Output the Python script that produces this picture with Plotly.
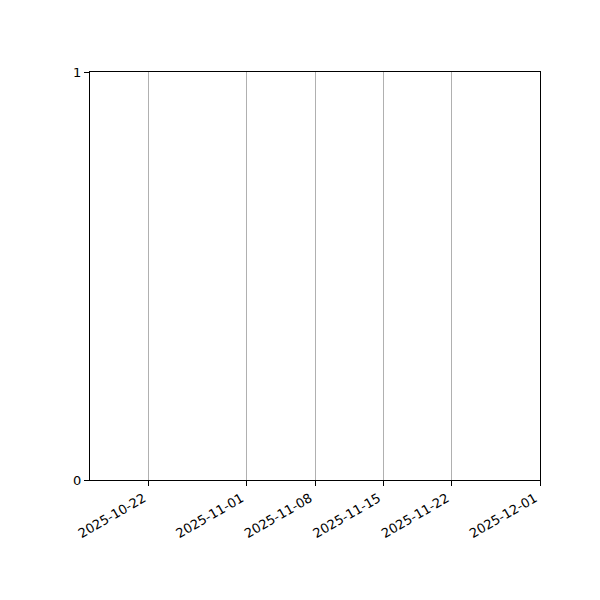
import plotly.graph_objects as go

# series (empty in the reference)
dates = []
values = []

# axis ticks
x_ticks = ['2025-10-22', '2025-11-01', '2025-11-08', '2025-11-15', '2025-11-22', '2025-12-01']
x_range = ['2025-10-16', '2025-12-01']
y_ticks = [0, 1]

fig = go.Figure()
fig.add_trace(go.Scatter(x=dates, y=values, mode='lines', line=dict(color='#1f77b4')))

font = dict(family='DejaVu Sans', size=13, color='black')
fig.update_layout(
    width=600, height=600,
    # page body adds an 8px offset, so margins are trimmed on the left/top
    margin=dict(l=82, r=68, t=64, b=128),
    paper_bgcolor='white', plot_bgcolor='white',
    showlegend=False,
    font=font,
)
fig.update_xaxes(
    type='date', range=x_range,
    tickvals=x_ticks, ticktext=x_ticks, tickangle=-30,
    ticklabelshift=-5,
    showgrid=True, gridcolor='#b0b0b0', gridwidth=1,
    showline=True, linecolor='black', linewidth=1, mirror=True,
    ticks='outside', ticklen=5, tickcolor='black',
    zeroline=False, tickfont=font,
)
fig.update_yaxes(
    range=[0, 1], tickvals=y_ticks,
    showgrid=False,
    showline=True, linecolor='black', linewidth=1, mirror=True,
    ticks='outside', ticklen=5, tickcolor='black',
    zeroline=False, tickfont=font,
)

fig.write_html("out.html")
